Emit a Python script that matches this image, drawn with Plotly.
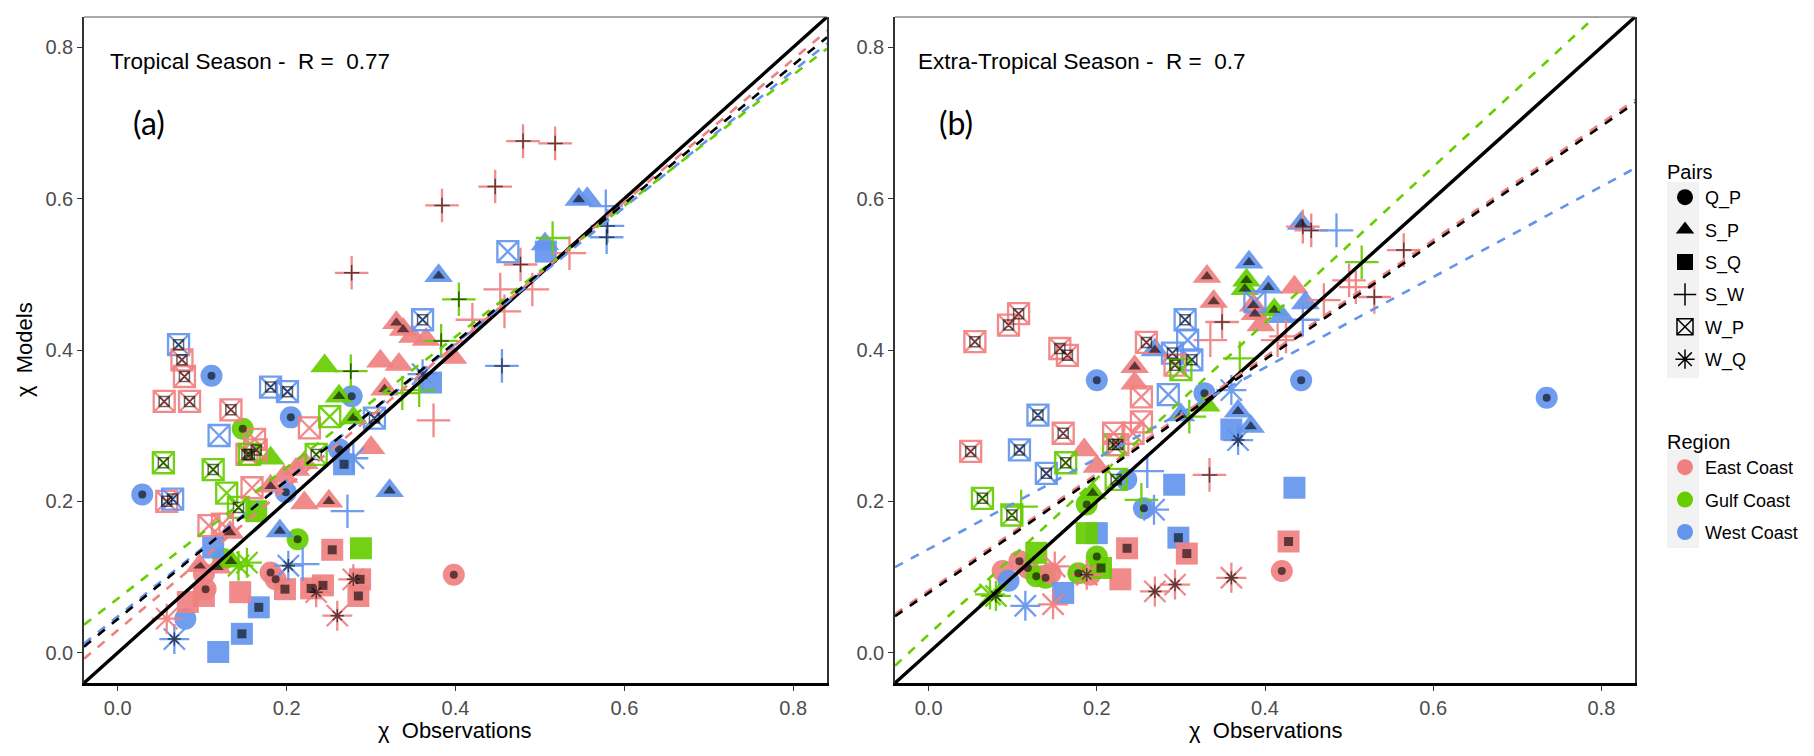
import plotly.graph_objects as go

# ---- data ---------------------------------------------------------------
AXIS_RANGE = [-0.04, 0.84]
TICKS = [0.0, 0.2, 0.4, 0.6, 0.8]
LINE_X = [-0.04, 0.84]

PAIR_CODES = ["QP", "SP", "SQ", "SW", "WP", "WQ"]
PAIR_NAMES = ["Q_P", "S_P", "S_Q", "S_W", "W_P", "W_Q"]
REGION_CODES = ["E", "G", "W"]
REGION_NAMES = ["East Coast", "Gulf Coast", "West Coast"]

# (a) Tropical season
a_obs = [0.480, 0.518, 0.447, 0.384, 0.277, 0.546, 0.556, 0.578, 0.580, 0.579,
         0.462, 0.507, 0.506, 0.515, 0.477, 0.535, 0.380, 0.404, 0.453, 0.491,
         0.458, 0.420, 0.330, 0.338, 0.349, 0.365, 0.361, 0.383, 0.455, 0.397,
         0.311, 0.333, 0.245, 0.276, 0.361, 0.371, 0.072, 0.076, 0.079, 0.111,
         0.055, 0.085, 0.181, 0.201, 0.134, 0.205, 0.148, 0.120, 0.162, 0.227,
         0.153, 0.164, 0.156, 0.181, 0.054, 0.113, 0.058, 0.065, 0.029, 0.129,
         0.143, 0.159, 0.108, 0.181, 0.199, 0.197, 0.211, 0.221, 0.221, 0.250,
         0.164, 0.192, 0.213, 0.322, 0.272, 0.300, 0.279, 0.268, 0.262, 0.235,
         0.251, 0.279, 0.304, 0.262, 0.277, 0.316, 0.374, 0.337, 0.357, 0.113,
         0.124, 0.133, 0.125, 0.202, 0.219, 0.097, 0.118, 0.134, 0.143, 0.153,
         0.104, 0.181, 0.187, 0.198, 0.254, 0.288, 0.229, 0.243, 0.235, 0.279,
         0.287, 0.285, 0.260, 0.167, 0.147, 0.119, 0.067, 0.058, 0.080, 0.083,
         0.102, 0.145, 0.102, 0.398]
a_mod = [0.676, 0.673, 0.616, 0.591, 0.502, 0.599, 0.600, 0.590, 0.564, 0.549,
         0.530, 0.530, 0.540, 0.548, 0.513, 0.528, 0.498, 0.467, 0.480, 0.480,
         0.451, 0.440, 0.436, 0.427, 0.418, 0.414, 0.440, 0.412, 0.379, 0.390,
         0.385, 0.381, 0.379, 0.372, 0.368, 0.357, 0.407, 0.387, 0.365, 0.366,
         0.332, 0.332, 0.351, 0.345, 0.321, 0.311, 0.296, 0.287, 0.282, 0.297,
         0.262, 0.268, 0.262, 0.257, 0.251, 0.242, 0.200, 0.203, 0.209, 0.211,
         0.192, 0.218, 0.168, 0.220, 0.212, 0.233, 0.242, 0.251, 0.198, 0.200,
         0.187, 0.161, 0.150, 0.214, 0.187, 0.271, 0.257, 0.249, 0.269, 0.262,
         0.312, 0.310, 0.310, 0.339, 0.339, 0.348, 0.307, 0.343, 0.347, 0.139,
         0.170, 0.159, 0.124, 0.115, 0.117, 0.115, 0.113, 0.121, 0.115, 0.119,
         0.084, 0.106, 0.097, 0.084, 0.136, 0.138, 0.085, 0.089, 0.080, 0.097,
         0.097, 0.075, 0.049, 0.060, 0.025, 0.001, 0.018, 0.045, 0.045, 0.067,
         0.075, 0.080, 0.104, 0.103]
a_pair = ["SW", "SW", "SW", "SW", "SW", "SP", "SP", "SW", "SW", "SW",
          "WP", "SQ", "SP", "SW", "SW", "SW", "SP", "SW", "SW", "SW",
          "SW", "SW", "SP", "SP", "SP", "SP", "WP", "SW", "SW", "SP",
          "SP", "SP", "SP", "SW", "WQ", "SQ", "WP", "WP", "WP", "QP",
          "WP", "WP", "WP", "WP", "WP", "QP", "QP", "WP", "WP", "WP",
          "WP", "WP", "WP", "SP", "WP", "WP", "WP", "WP", "QP", "WP",
          "WP", "WP", "WP", "SP", "QP", "SP", "SP", "SP", "SP", "SP",
          "SQ", "SP", "QP", "SP", "SW", "SP", "WQ", "SQ", "QP", "WP",
          "WP", "SP", "WP", "SP", "QP", "SP", "SW", "SW", "SW", "SQ",
          "WP", "SP", "QP", "WQ", "SW", "SP", "SP", "SP", "WQ", "WQ",
          "QP", "QP", "QP", "SQ", "SQ", "SQ", "SQ", "SQ", "WQ", "WQ",
          "SQ", "SQ", "WQ", "SQ", "SQ", "SQ", "WQ", "WQ", "QP", "SQ",
          "SQ", "SQ", "QP", "QP"]
a_reg = ["E", "E", "E", "E", "E", "W", "W", "W", "W", "W",
         "W", "W", "W", "G", "E", "E", "W", "G", "E", "E",
         "E", "E", "E", "E", "E", "E", "W", "G", "W", "E",
         "E", "E", "G", "G", "W", "W", "W", "E", "E", "W",
         "E", "E", "W", "W", "E", "W", "G", "W", "E", "E",
         "E", "E", "G", "G", "G", "G", "E", "W", "W", "G",
         "G", "E", "E", "E", "W", "E", "E", "E", "E", "E",
         "G", "W", "G", "W", "W", "E", "W", "W", "W", "G",
         "G", "G", "W", "G", "W", "E", "E", "G", "G", "W",
         "E", "E", "G", "W", "W", "E", "E", "G", "G", "G",
         "E", "E", "E", "E", "E", "G", "E", "E", "E", "E",
         "E", "E", "E", "W", "W", "W", "W", "E", "W", "E",
         "E", "E", "E", "E"]
a_dot = [1, 1, 1, 1, 1, 1, 0, 0, 1, 1,
         0, 0, 0, 0, 1, 0, 1, 1, 0, 0,
         0, 0, 1, 1, 0, 0, 1, 1, 1, 0,
         0, 0, 0, 1, 1, 0, 1, 1, 1, 1,
         1, 1, 1, 1, 1, 1, 1, 0, 0, 0,
         1, 1, 1, 0, 1, 1, 1, 1, 1, 0,
         1, 0, 0, 1, 1, 0, 0, 0, 0, 1,
         0, 1, 1, 1, 0, 0, 0, 1, 1, 1,
         0, 1, 1, 1, 1, 1, 0, 0, 0, 0,
         0, 1, 0, 1, 0, 1, 1, 1, 0, 0,
         1, 1, 1, 1, 1, 0, 1, 1, 1, 1,
         1, 1, 1, 1, 1, 0, 1, 0, 0, 0,
         0, 0, 0, 1]

# (b) Extra-tropical season
b_obs = [0.055, 0.095, 0.107, 0.156, 0.165, 0.200, 0.259, 0.269, 0.245, 0.305,
         0.290, 0.313, 0.293, 0.300, 0.308, 0.335, 0.370, 0.331, 0.339, 0.349,
         0.381, 0.378, 0.376, 0.404, 0.435, 0.388, 0.386, 0.388, 0.411, 0.448,
         0.420, 0.395, 0.445, 0.425, 0.415, 0.443, 0.445, 0.455, 0.485, 0.470,
         0.500, 0.508, 0.515, 0.565, 0.530, 0.443, 0.328, 0.360, 0.285, 0.253,
         0.253, 0.243, 0.245, 0.300, 0.310, 0.330, 0.368, 0.383, 0.360, 0.368,
         0.130, 0.160, 0.050, 0.108, 0.140, 0.163, 0.185, 0.220, 0.225, 0.220,
         0.223, 0.235, 0.260, 0.200, 0.195, 0.188, 0.253, 0.256, 0.268, 0.064,
         0.099, 0.110, 0.292, 0.435, 0.200, 0.188, 0.297, 0.236, 0.307, 0.428,
         0.334, 0.420, 0.360, 0.269, 0.293, 0.228, 0.192, 0.188, 0.178, 0.200,
         0.205, 0.108, 0.118, 0.088, 0.128, 0.139, 0.128, 0.150, 0.148, 0.095,
         0.160, 0.115, 0.080, 0.073, 0.735, 0.145]
b_mod = [0.411, 0.433, 0.448, 0.402, 0.393, 0.360, 0.410, 0.400, 0.378, 0.440,
         0.396, 0.387, 0.380, 0.374, 0.413, 0.413, 0.389, 0.497, 0.464, 0.437,
         0.516, 0.492, 0.481, 0.483, 0.483, 0.464, 0.459, 0.448, 0.453, 0.462,
         0.444, 0.433, 0.440, 0.418, 0.413, 0.567, 0.563, 0.558, 0.558, 0.466,
         0.492, 0.483, 0.516, 0.532, 0.470, 0.360, 0.343, 0.347, 0.341, 0.338,
         0.305, 0.290, 0.356, 0.314, 0.312, 0.327, 0.319, 0.299, 0.295, 0.281,
         0.314, 0.290, 0.266, 0.268, 0.237, 0.251, 0.268, 0.275, 0.275, 0.290,
         0.229, 0.229, 0.240, 0.246, 0.211, 0.196, 0.202, 0.191, 0.189, 0.204,
         0.182, 0.193, 0.222, 0.218, 0.158, 0.158, 0.152, 0.138, 0.131, 0.147,
         0.235, 0.108, 0.099, 0.081, 0.090, 0.097, 0.103, 0.103, 0.105, 0.127,
         0.112, 0.121, 0.112, 0.108, 0.101, 0.099, 0.132, 0.114, 0.064, 0.095,
         0.079, 0.062, 0.075, 0.077, 0.337, 0.105]
b_pair = ["WP", "WP", "WP", "WP", "WP", "QP", "WP", "SP", "SP", "WP",
          "WP", "WP", "WP", "WP", "WP", "SW", "SW", "SP", "SP", "SW",
          "SP", "SP", "SP", "SP", "SP", "WP", "SP", "SP", "SP", "SP",
          "SP", "SP", "SW", "SW", "SW", "SP", "SW", "SW", "SW", "SW",
          "SW", "SW", "SW", "SW", "SW", "QP", "QP", "WQ", "WP", "WP",
          "WP", "WP", "SP", "SP", "SW", "SP", "SP", "SP", "SQ", "WQ",
          "WP", "WP", "WP", "WP", "WP", "WP", "SP", "WP", "WP", "WP",
          "WP", "QP", "SW", "SP", "SP", "QP", "SW", "QP", "WQ", "WP",
          "WP", "SW", "SQ", "SQ", "SQ", "SQ", "SQ", "SQ", "SQ", "SQ",
          "SW", "QP", "WQ", "WQ", "WQ", "SQ", "QP", "WQ", "QP", "QP",
          "SQ", "QP", "QP", "QP", "QP", "QP", "SQ", "WQ", "WQ", "QP",
          "SQ", "WQ", "WQ", "WQ", "QP", "QP"]
b_reg = ["E", "E", "E", "E", "E", "W", "E", "W", "E", "W",
         "W", "W", "E", "G", "W", "E", "G", "E", "E", "E",
         "W", "G", "G", "W", "E", "W", "E", "E", "G", "W",
         "W", "E", "W", "E", "E", "W", "E", "E", "W", "E",
         "E", "E", "G", "E", "E", "W", "W", "W", "W", "E",
         "E", "E", "E", "W", "G", "G", "W", "W", "W", "W",
         "W", "E", "E", "W", "W", "G", "E", "G", "E", "E",
         "G", "W", "W", "E", "G", "G", "G", "W", "W", "G",
         "G", "G", "W", "W", "W", "G", "W", "E", "E", "E",
         "E", "E", "E", "E", "E", "E", "E", "E", "G", "G",
         "G", "E", "E", "E", "G", "G", "G", "E", "E", "W",
         "W", "W", "G", "G", "W", "E"]
b_dot = [1, 1, 1, 1, 1, 1, 1, 1, 1, 1,
         1, 1, 1, 0, 0, 0, 0, 1, 1, 1,
         1, 1, 1, 1, 0, 0, 1, 1, 1, 0,
         0, 0, 0, 0, 0, 1, 1, 1, 0, 0,
         0, 0, 0, 1, 1, 1, 1, 0, 0, 0,
         0, 0, 0, 1, 0, 0, 1, 1, 0, 1,
         1, 1, 1, 1, 1, 1, 0, 1, 1, 0,
         1, 0, 0, 0, 1, 1, 0, 1, 0, 1,
         1, 0, 0, 0, 0, 0, 1, 1, 1, 1,
         1, 1, 1, 1, 1, 0, 0, 1, 1, 1,
         1, 1, 1, 0, 1, 1, 0, 0, 0, 0,
         0, 0, 1, 0, 1, 0]

# fitted lines: intercept, slope (all, East, Gulf, West)
a_fit_int = [0.0446, 0.0297, 0.0716, 0.048]
a_fit_slope = [0.915, 0.943, 0.865, 0.901]
b_fit_int = [0.079, 0.082, 0.024, 0.137]
b_fit_slope = [0.771, 0.772, 1.03, 0.599]

# ---- styling ------------------------------------------------------------
COLORS = {"E": "#F08080", "G": "#66CD00", "W": "#6495ED"}
FIT_COLORS = ["black", "#F08080", "#66CD00", "#6495ED"]
SYMBOLS = {"QP": "circle", "SP": "triangle-up", "SQ": "square",
           "SW": "cross-thin-open", "WP": "square-x-open", "WQ": "asterisk-open"}
BIG_SIZE = {"QP": 22, "SP": 25, "SQ": 22, "SW": 24, "WP": 21, "WQ": 25}
DOT_SIZE = {"QP": 8, "SP": 11, "SQ": 9, "SW": 11, "WP": 10, "WQ": 11}
OPEN = {"SW", "WP", "WQ"}

fig = go.Figure()


def add_panel(obs, mod, pair, reg, dot, fit_int, fit_slope, xa, ya):
    for code in PAIR_CODES:
        idx = [i for i, p in enumerate(pair) if p == code]
        if not idx:
            continue
        lw = 2.3 if code in OPEN else 0
        fig.add_trace(go.Scatter(
            x=[obs[i] for i in idx], y=[mod[i] for i in idx],
            mode="markers", xaxis=xa, yaxis=ya, showlegend=False, hoverinfo="skip",
            marker=dict(symbol=SYMBOLS[code], size=BIG_SIZE[code], opacity=0.92,
                        color=[COLORS[reg[i]] for i in idx],
                        line=dict(width=lw, color=[COLORS[reg[i]] for i in idx]))))
    for code in PAIR_CODES:
        idx = [i for i, p in enumerate(pair) if p == code and dot[i]]
        if not idx:
            continue
        lw = 1.5 if code in OPEN else 0
        fig.add_trace(go.Scatter(
            x=[obs[i] for i in idx], y=[mod[i] for i in idx],
            mode="markers", xaxis=xa, yaxis=ya, showlegend=False, hoverinfo="skip",
            marker=dict(symbol=SYMBOLS[code], size=DOT_SIZE[code], opacity=0.6,
                        color="black", line=dict(width=lw, color="black"))))
    # 1:1 line
    fig.add_trace(go.Scatter(x=LINE_X, y=LINE_X, mode="lines", xaxis=xa, yaxis=ya,
                             showlegend=False, hoverinfo="skip",
                             line=dict(color="black", width=3.4)))
    # regression lines
    for k in [1, 3, 2, 0]:
        fig.add_trace(go.Scatter(
            x=LINE_X, y=[fit_int[k] + fit_slope[k] * x for x in LINE_X],
            mode="lines", xaxis=xa, yaxis=ya, showlegend=False, hoverinfo="skip",
            line=dict(color=FIT_COLORS[k], width=2.6, dash="dash")))


add_panel(a_obs, a_mod, a_pair, a_reg, a_dot, a_fit_int, a_fit_slope, "x", "y")
add_panel(b_obs, b_mod, b_pair, b_reg, b_dot, b_fit_int, b_fit_slope, "x2", "y2")

# legend entries
for code, name in zip(PAIR_CODES, PAIR_NAMES):
    fig.add_trace(go.Scatter(
        x=[None], y=[None], mode="markers", name=name, legend="legend",
        legendgroup=name,
        marker=dict(symbol=SYMBOLS[code], size=16, color="black",
                    line=dict(width=1.5 if code in OPEN else 0, color="black"))))
for code, name in zip(REGION_CODES, REGION_NAMES):
    fig.add_trace(go.Scatter(
        x=[None], y=[None], mode="markers", name=name, legend="legend2",
        legendgroup=name,
        marker=dict(symbol="circle", size=16, color=COLORS[code])))

W, H = 1814, 756
axis_common = dict(range=AXIS_RANGE, tickvals=TICKS, tickformat=".1f",
                   showgrid=False, zeroline=False, showline=True,
                   ticks="outside", ticklen=5, tickcolor="#333333",
                   tickfont=dict(size=20, color="#4D4D4D"))
x_axis = dict(axis_common, linecolor="black", linewidth=3, mirror=False)
y_axis = dict(axis_common, linecolor="#333333", linewidth=1.5, mirror=True)

fig.update_layout(
    width=W, height=H, margin=dict(l=0, r=0, t=0, b=0),
    plot_bgcolor="white", paper_bgcolor="white",
    font=dict(family="Liberation Sans, Arial, sans-serif", color="black"),
    xaxis=dict(domain=[84 / W, 827 / W], anchor="y", **x_axis),
    yaxis=dict(domain=[(H - 683) / H, (H - 17) / H], anchor="x", **y_axis),
    xaxis2=dict(domain=[895 / W, 1635 / W], anchor="y2", **x_axis),
    yaxis2=dict(domain=[(H - 683) / H, (H - 17) / H], anchor="x2", **y_axis),
    legend=dict(title=dict(text="Pairs", font=dict(size=20)), font=dict(size=18),
                x=1665 / W, y=(H - 153) / H, xanchor="left", yanchor="top",
                tracegroupgap=6, bgcolor="rgba(0,0,0,0)"),
    legend2=dict(title=dict(text="Region", font=dict(size=20)), font=dict(size=18),
                 x=1665 / W, y=(H - 423) / H, xanchor="left", yanchor="top",
                 tracegroupgap=6, bgcolor="rgba(0,0,0,0)"),
    showlegend=True,
)

# top border of each panel (thin grey)
for xr, yr in [("x domain", "y domain"), ("x2 domain", "y2 domain")]:
    fig.add_shape(type="line", xref=xr, yref=yr, x0=0, x1=1, y0=1, y1=1,
                  line=dict(color="#555555", width=1.2))

# light grey backgrounds behind legend keys
for y0, y1 in [(182, 378), (450, 548)]:
    fig.add_shape(type="rect", xref="paper", yref="paper", layer="below",
                  x0=1667 / W, x1=1699 / W, y0=(H - y1) / H, y1=(H - y0) / H,
                  line=dict(width=0), fillcolor="#F2F2F2")

ann = [
    dict(text="Tropical Season -  R =  0.77", x=108 / W, y=(H - 62) / H, size=22.5,
         family="Liberation Sans, Arial, sans-serif"),
    dict(text="(a)", x=131 / W, y=(H - 122) / H, size=32, family="Lato, Open Sans, sans-serif"),
    dict(text="Extra-Tropical Season -  R =  0.7", x=916 / W, y=(H - 62) / H, size=22.5,
         family="Liberation Sans, Arial, sans-serif"),
    dict(text="(b)", x=937 / W, y=(H - 122) / H, size=32, family="Lato, Open Sans, sans-serif"),
]
for a in ann:
    fig.add_annotation(text=a["text"], x=a["x"], y=a["y"], xref="paper", yref="paper",
                       xanchor="left", yanchor="middle", showarrow=False,
                       font=dict(size=a["size"], family=a["family"], color="black"))

for xc in [455, 1265]:
    fig.add_annotation(text="χ  Observations", x=xc / W, y=(H - 716) / H, xref="paper",
                       yref="paper", xanchor="center", yanchor="top", showarrow=False,
                       font=dict(size=22, color="black"))
fig.add_annotation(text="χ  Models", x=25 / W, y=(H - 350) / H, xref="paper",
                   yref="paper", xanchor="center", yanchor="middle", showarrow=False,
                   textangle=-90, font=dict(size=22, color="black"))

fig.write_html("out.html", config={"displayModeBar": False},
               post_script="document.body.style.margin='0px';")
